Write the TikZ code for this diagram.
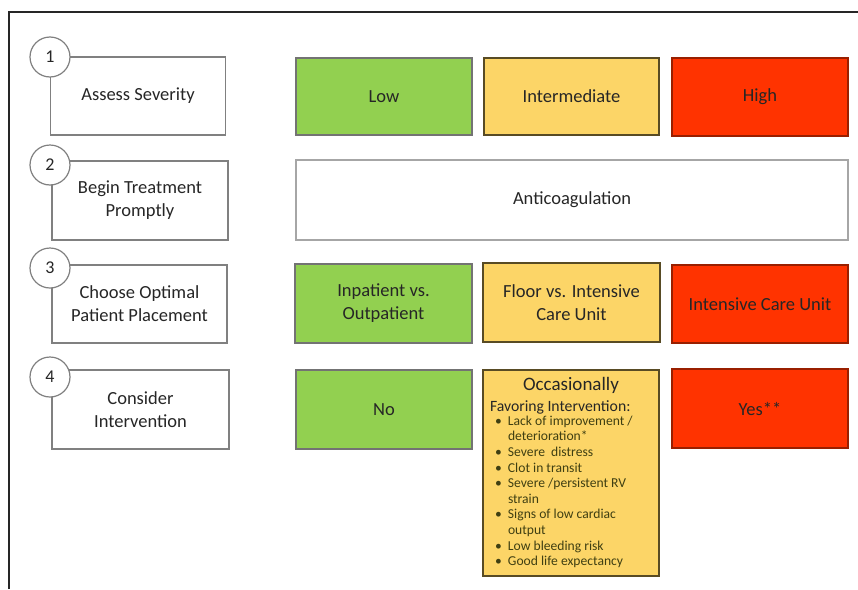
\documentclass[tikz,border=0pt]{standalone}
\usepackage{fontspec}
\setmainfont{Carlito}
\usepackage{array}
\definecolor{lowg}{HTML}{92D050}
\definecolor{midy}{HTML}{FCD567}
\definecolor{highr}{HTML}{FF3300}
\definecolor{txt}{HTML}{262626}
\definecolor{olive}{HTML}{3F3F12}
\definecolor{boxgray}{HTML}{808080}
\begin{document}
\begin{tikzpicture}[x=1pt,y=-1pt,
  base/.style={rectangle, inner sep=2pt, align=center, text=txt,
    font=\fontsize{18.5}{23}\selectfont, line width=1.2pt},
  stepbox/.style={base, draw=boxgray, fill=white, line width=1.5pt},
  lowbox/.style={base, draw=black!55, fill=lowg},
  midbox/.style={base, draw=black!50!midy!70!black, fill=midy},
  highbox/.style={base, draw=highr!60!black, fill=highr},
  plainbox/.style={base, draw=black!35, fill=white, line width=1.5pt},
  numcirc/.style={circle, draw=boxgray, fill=white, line width=1.2pt,
    minimum size=40pt, inner sep=0pt, text=txt, font=\fontsize{18}{20}\selectfont}
]
\useasboundingbox (0,0) rectangle (858,589);
% frame
\coordinate (fbl) at (9,589);
\coordinate (ftl) at (9,12);
\coordinate (ftr) at (858,12);
\draw[line width=2pt, black!85] (fbl) -- (ftl) -- (ftr);

% left step boxes
\node[stepbox, minimum width=175pt, minimum height=78pt] (s1) at (138,96) {Assess Severity};
\node[stepbox, minimum width=176pt, minimum height=79pt] (s2) at (140,200.5) {Begin Treatment\\Promptly};
\node[stepbox, minimum width=175pt, minimum height=78pt] (s3) at (139.5,304) {Choose Optimal\\Patient Placement};
\node[stepbox, minimum width=177pt, minimum height=79pt] (s4) at (140.5,409.5) {Consider\\Intervention};

\node[numcirc] (c1) at (50,57) {1};
\node[numcirc] (c2) at (50,165) {2};
\node[numcirc] (c3) at (50,268) {3};
\node[numcirc] (c4) at (50,377) {4};

% row 1
\node[lowbox, minimum width=176pt, minimum height=77pt] (low) at (384,96.5) {Low};
\node[midbox, minimum width=175pt, minimum height=77pt] (mid) at (571.5,96.5) {Intermediate};
\node[highbox, minimum width=176pt, minimum height=78pt] (high) at (760,97) {High};

% row 2
\node[plainbox, minimum width=552pt, minimum height=80pt] (anti) at (572,200) {Anticoagulation};

% row 3
\node[lowbox, minimum width=177pt, minimum height=79pt] (inout) at (383.5,303.5) {Inpatient vs.\\Outpatient};
\node[midbox, minimum width=177pt, minimum height=79pt] (floor) at (571.5,302.5) {Floor vs. Intensive\\Care Unit};
\node[highbox, minimum width=176pt, minimum height=78pt] (icu) at (760,304) {Intensive Care Unit};

% row 4
\node[lowbox, minimum width=176pt, minimum height=79pt] (no) at (384,409.5) {No};
\node[midbox, minimum width=176pt, minimum height=206pt] (occ) at (571,473) {};
\node[highbox, minimum width=176pt, minimum height=79pt] (yes) at (760,408.5) {Yes**};

\node[anchor=north, inner sep=0pt, text=txt] (occtext) at ([yshift=-7.5pt]occ.north) {%
\begin{minipage}{162pt}
\centering\fontsize{19}{21}\selectfont Occasionally\par
\raggedright\fontsize{15.7}{21}\selectfont Favoring Intervention:\par
\vspace{-1.6pt}%
\fontsize{13.6}{15.6}\selectfont\color{olive}%
\begin{tabular}[t]{@{\hspace{5pt}}p{13pt}@{}l@{}}
• & Lack of improvement /\\
  & deterioration*\\
• & Severe\ \ distress\\
• & Clot in transit\\
• & Severe /persistent RV\\
  & strain\\
• & Signs of low cardiac\\
  & output\\
• & Low bleeding risk\\
• & Good life expectancy
\end{tabular}
\end{minipage}};
\end{tikzpicture}
\end{document}
